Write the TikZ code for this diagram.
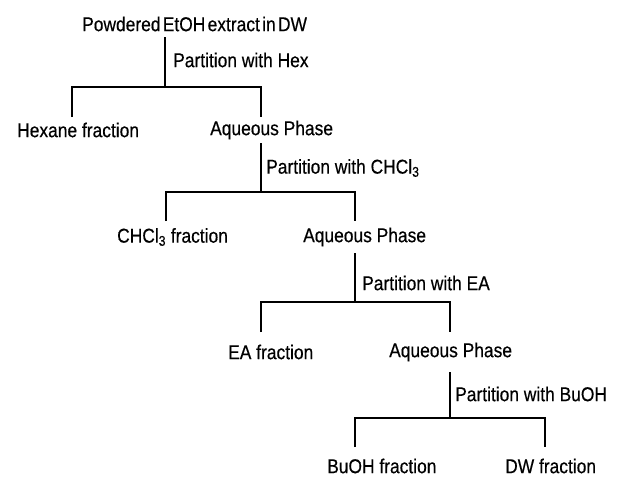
\documentclass[tikz,border=0pt]{standalone}
\usepackage{fontspec}
\setmainfont{Liberation Sans}[FakeStretch=0.87,FakeBold=0.4]
\begin{document}
\begin{tikzpicture}[x=1pt,y=-1pt,
  lbl/.style={anchor=west,inner sep=0pt,font=\fontsize{20}{22}\selectfont},
  conn/.style={line width=2pt,line cap=butt}]
\useasboundingbox[fill=white] (0,0) rectangle (618,479);
% texts
\node[lbl] (top) at (82,24) {\spaceskip=2.3pt Powdered EtOH extract in DW};
\node[lbl] (p1) at (173,60) {Partition with Hex};
\node[lbl] (hex) at (17,130) {Hexane fraction};
\node[lbl] (aq1) at (210,130) {Aqueous Phase};
\node[lbl] (p2) at (266,168) {Partition with CHCl\textsubscript{3}};
\node[lbl] (chl) at (117,237) {CHCl\textsubscript{3} fraction};
\node[lbl] (aq2) at (303,237) {Aqueous Phase};
\node[lbl] (p3) at (362,283) {Partition with EA};
\node[lbl] (ea) at (228,352) {EA fraction};
\node[lbl] (aq3) at (389,352) {Aqueous Phase};
\node[lbl] (p4) at (455,394) {Partition with BuOH};
\node[lbl] (bu) at (327,466) {BuOH fraction};
\node[lbl] (dw) at (505,466) {DW fraction};
% tree coordinates
\coordinate (s1) at (165,37);  \coordinate (j1) at (165,87);
\coordinate (l1) at (72,117);  \coordinate (r1) at (261,117);
\coordinate (s2) at (261,143); \coordinate (j2) at (261,192);
\coordinate (l2) at (166,221); \coordinate (r2) at (355,221);
\coordinate (s3) at (355,253); \coordinate (j3) at (355,302);
\coordinate (l3) at (261,332); \coordinate (r3) at (450,332);
\coordinate (s4) at (450,372); \coordinate (j4) at (450,418);
\coordinate (l4) at (355,447); \coordinate (r4) at (545,447);
\draw[conn] (s1) -- (j1);
\draw[conn] (l1) |- (j1) -| (r1);
\draw[conn] (s2) -- (j2);
\draw[conn] (l2) |- (j2) -| (r2);
\draw[conn] (s3) -- (j3);
\draw[conn] (l3) |- (j3) -| (r3);
\draw[conn] (s4) -- (j4);
\draw[conn] (l4) |- (j4) -| (r4);
\end{tikzpicture}
\end{document}
